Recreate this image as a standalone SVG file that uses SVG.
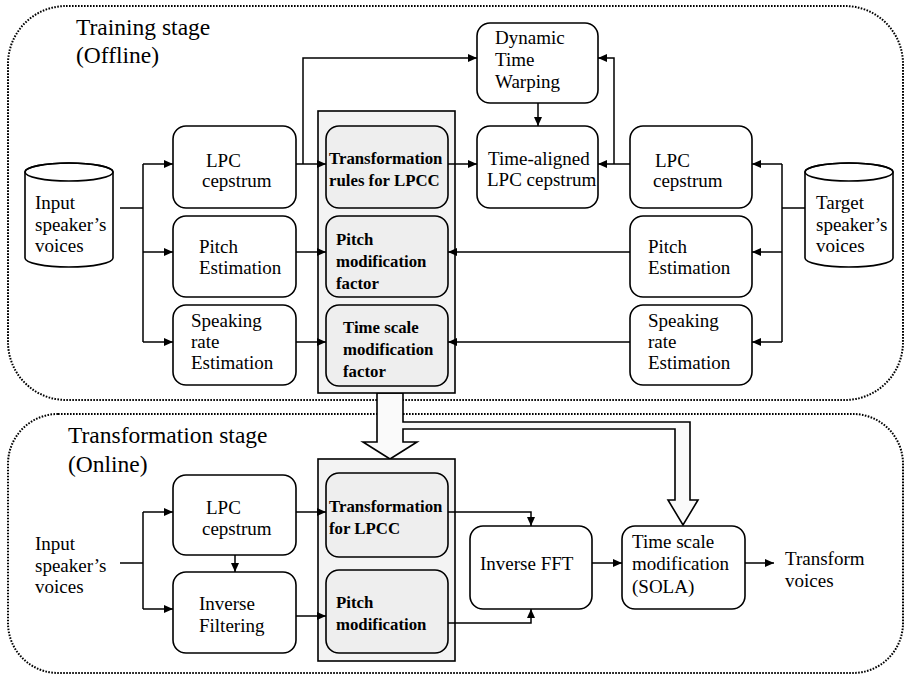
<svg xmlns="http://www.w3.org/2000/svg" width="905" height="675" viewBox="0 0 905 675">
<style>
text{font-family:"Liberation Serif","Times New Roman",serif;font-size:19px;fill:#000}
.title{font-size:23.5px}
.b{font-weight:bold;font-size:16.8px}
.box{fill:#fff;stroke:#000;stroke-width:1.6}
.gbox{fill:#eeeeee;stroke:#000;stroke-width:1.6}
.col{fill:#f3f3f3;stroke:#000;stroke-width:1.6}
.stage{fill:none;stroke:#000;stroke-width:2;stroke-dasharray:1.6 1.4}
.ln{fill:none;stroke:#000;stroke-width:1.5}
.ar{fill:none;stroke:#000;stroke-width:1.5;marker-end:url(#ah)}
.wide{fill:#fafafa;stroke:#000;stroke-width:1.6;stroke-linejoin:miter}
</style>
<defs>
<marker id="ah" markerUnits="userSpaceOnUse" markerWidth="9" markerHeight="8" refX="9" refY="4" orient="auto">
<path d="M0,0 L9,4 L0,8 z" fill="#000"/>
</marker>
</defs>
<rect width="905" height="675" fill="#fff"/>

<g id="stages">
<rect class="stage" x="8" y="6" width="895" height="394" rx="58" ry="58"/>
<rect class="stage" x="8" y="414" width="895" height="259" rx="50" ry="50"/>
<text class="title" x="76" y="35">Training stage</text>
<text class="title" x="76" y="63">(Offline)</text>
<text class="title" x="68" y="443">Transformation stage</text>
<text class="title" x="68" y="472">(Online)</text>
</g>

<g id="wide-arrow">
<path class="wide" d="M377,393 L377,442 L363,442 L390,459 L417,442 L403,442 L403,429 L675,429 L675,500 L668,500 L683,525 L698,500 L690,500 L690,422 L403,422 L403,393 Z"/>
</g>

<g id="input-cyl">
<path class="box" d="M25,172 L25,258 A44,9 0 0 0 113,258 L113,172 A44,9 0 0 0 25,172 Z"/>
<ellipse cx="69" cy="172" rx="44" ry="9" fill="none" stroke="#000" stroke-width="1.6"/>
<text x="35" y="209">Input</text>
<text x="35" y="231">speaker’s</text>
<text x="35" y="252">voices</text>
</g>

<g id="target-cyl">
<path class="box" d="M805,172 L805,258 A44,9 0 0 0 893,258 L893,172 A44,9 0 0 0 805,172 Z"/>
<ellipse cx="849" cy="172" rx="44" ry="9" fill="none" stroke="#000" stroke-width="1.6"/>
<text x="816" y="209">Target</text>
<text x="816" y="231">speaker’s</text>
<text x="816" y="252">voices</text>
</g>

<g id="lpc-left">
<rect class="box" x="173" y="126" width="123" height="82" rx="13"/>
<text x="206" y="167">LPC</text>
<text x="202" y="187">cepstrum</text>
</g>
<g id="pitch-left">
<rect class="box" x="173" y="216" width="123" height="81" rx="13"/>
<text x="199" y="253">Pitch</text>
<text x="199" y="274">Estimation</text>
</g>
<g id="rate-left">
<rect class="box" x="173" y="305" width="123" height="80" rx="13"/>
<text x="191" y="327">Speaking</text>
<text x="191" y="348">rate</text>
<text x="191" y="369">Estimation</text>
</g>

<g id="train-column">
<rect class="col" x="318" y="111" width="137" height="282"/>
<rect class="gbox" x="326" y="126" width="122" height="82" rx="13"/>
<text class="b" x="329" y="164">Transformation</text>
<text class="b" x="329" y="186">rules for LPCC</text>
<rect class="gbox" x="326" y="216" width="122" height="81" rx="13"/>
<text class="b" x="336" y="245">Pitch</text>
<text class="b" x="336" y="267">modification</text>
<text class="b" x="336" y="289">factor</text>
<rect class="gbox" x="326" y="305" width="122" height="81" rx="13"/>
<text class="b" x="343" y="333">Time scale</text>
<text class="b" x="343" y="355">modification</text>
<text class="b" x="343" y="377">factor</text>
</g>

<g id="dtw">
<rect class="box" x="477" y="23" width="121" height="80" rx="13"/>
<text x="495" y="44">Dynamic</text>
<text x="495" y="66">Time</text>
<text x="495" y="88">Warping</text>
</g>
<g id="time-aligned">
<rect class="box" x="477" y="126" width="121" height="82" rx="13"/>
<text x="488" y="165">Time-aligned</text>
<text x="487" y="186">LPC cepstrum</text>
</g>

<g id="lpc-right">
<rect class="box" x="630" y="126" width="122" height="82" rx="13"/>
<text x="655" y="167">LPC</text>
<text x="653" y="187">cepstrum</text>
</g>
<g id="pitch-right">
<rect class="box" x="630" y="216" width="122" height="81" rx="13"/>
<text x="648" y="253">Pitch</text>
<text x="648" y="274">Estimation</text>
</g>
<g id="rate-right">
<rect class="box" x="630" y="305" width="122" height="80" rx="13"/>
<text x="648" y="327">Speaking</text>
<text x="648" y="348">rate</text>
<text x="648" y="369">Estimation</text>
</g>

<g id="online-input">
<text x="35" y="550">Input</text>
<text x="35" y="572">speaker’s</text>
<text x="35" y="593">voices</text>
</g>
<g id="lpc-online">
<rect class="box" x="173" y="475" width="123" height="80" rx="13"/>
<text x="206" y="514">LPC</text>
<text x="202" y="535">cepstrum</text>
</g>
<g id="inverse-filtering">
<rect class="box" x="173" y="572" width="123" height="81" rx="13"/>
<text x="199" y="610">Inverse</text>
<text x="199" y="632">Filtering</text>
</g>

<g id="online-column">
<rect class="col" x="318" y="459" width="137" height="202"/>
<rect class="gbox" x="326" y="473" width="122" height="84" rx="13"/>
<text class="b" x="329" y="512">Transformation</text>
<text class="b" x="329" y="534">for LPCC</text>
<rect class="gbox" x="326" y="570" width="122" height="83" rx="13"/>
<text class="b" x="336" y="608">Pitch</text>
<text class="b" x="336" y="630">modification</text>
</g>

<g id="inverse-fft">
<rect class="box" x="470" y="526" width="122" height="83" rx="13"/>
<text x="480" y="570">Inverse FFT</text>
</g>
<g id="sola">
<rect class="box" x="622" y="526" width="123" height="83" rx="13"/>
<text x="632" y="548">Time scale</text>
<text x="632" y="570">modification</text>
<text x="632" y="593">(SOLA)</text>
</g>
<g id="output">
<text x="785" y="565">Transform</text>
<text x="785" y="587">voices</text>
</g>

<g id="connectors">
<path class="ln" d="M120,208 H143 M143,164 V342"/>
<path class="ar" d="M143,164 H173"/>
<path class="ar" d="M143,252 H173"/>
<path class="ar" d="M143,342 H173"/>
<path class="ar" d="M296,164 H326"/>
<path class="ar" d="M303,164 V58 H477"/>
<path class="ar" d="M296,252 H326"/>
<path class="ar" d="M296,342 H326"/>
<path class="ar" d="M448,164 H477"/>
<path class="ar" d="M538,103 V126"/>
<path class="ar" d="M630,164 H598"/>
<path class="ar" d="M614,164 V58 H598"/>
<path class="ln" d="M805,208 H782 M782,164 V342"/>
<path class="ar" d="M782,164 H752"/>
<path class="ar" d="M782,252 H752"/>
<path class="ar" d="M782,342 H752"/>
<path class="ar" d="M630,252 H448"/>
<path class="ar" d="M630,342 H448"/>
<path class="ln" d="M120,563 H143 M143,512 V609"/>
<path class="ar" d="M143,512 H173"/>
<path class="ar" d="M143,609 H173"/>
<path class="ar" d="M235,555 V572"/>
<path class="ar" d="M296,512 H326"/>
<path class="ar" d="M296,616 H326"/>
<path class="ar" d="M448,512 H531 V526"/>
<path class="ar" d="M448,623 H531 V609"/>
<path class="ar" d="M592,563 H622"/>
<path class="ar" d="M745,563 H774"/>
</g>
</svg>
